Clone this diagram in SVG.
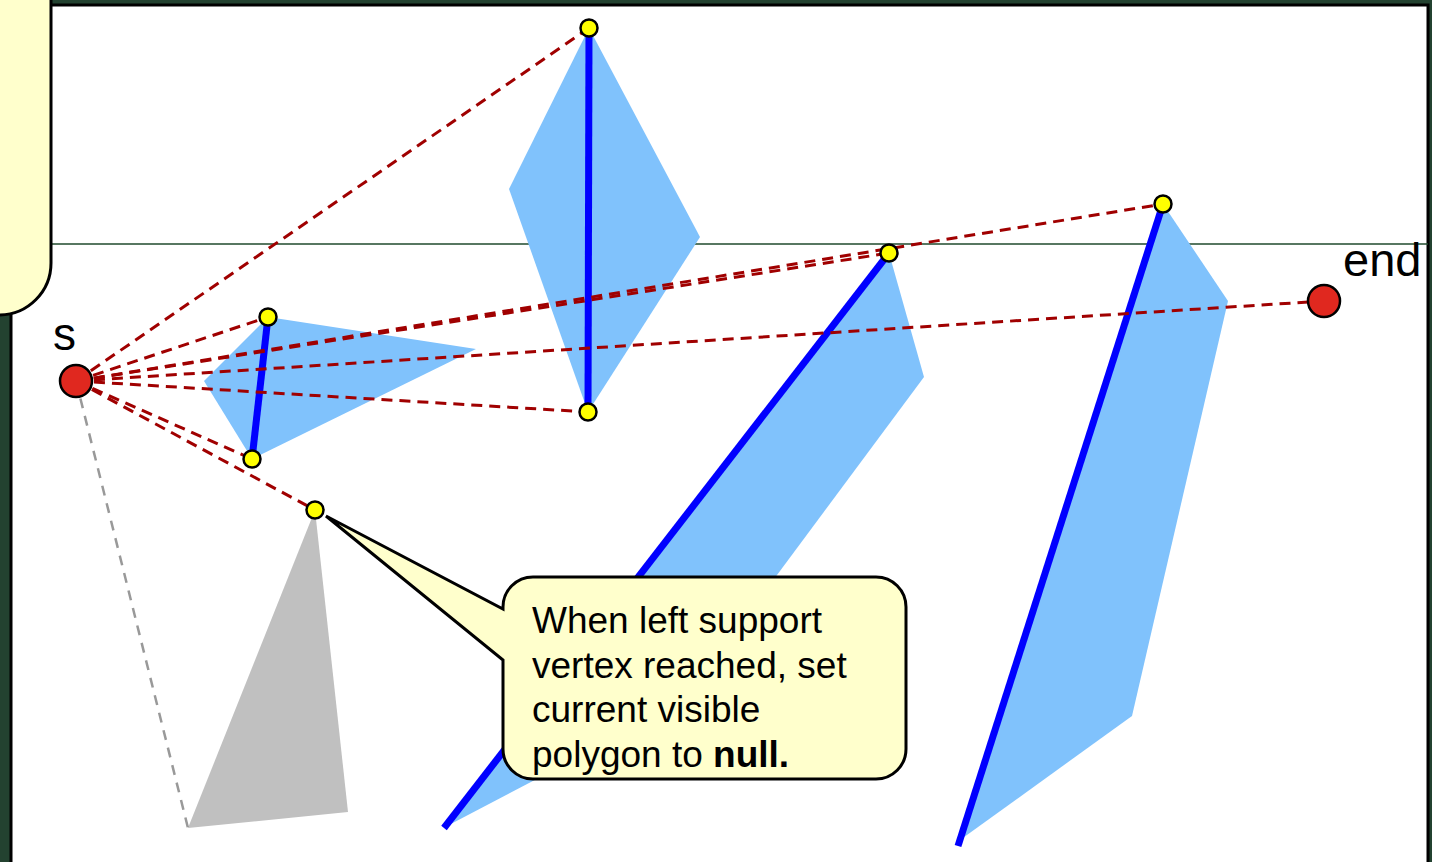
<svg xmlns="http://www.w3.org/2000/svg" width="1432" height="862" viewBox="0 0 1432 862">
<style>
.poly{fill:#80c2fc;stroke:none}
.grey{fill:#c0c0c0;stroke:none}
.edge{stroke:#0000ff;stroke-width:7;stroke-linecap:butt;fill:none}
.ray{stroke:#a00000;stroke-width:3;stroke-dasharray:11 7;fill:none}
.gray-ray{stroke:#999999;stroke-width:2.5;stroke-dasharray:10 8;fill:none}
.vtx{fill:#ffff00;stroke:#000;stroke-width:2.5}
.pt{fill:#e0281f;stroke:#000;stroke-width:2.5}
.lbl{font-family:"Liberation Sans",Arial,sans-serif;fill:#000}
.note{fill:#ffffcc;stroke:#000;stroke-width:3}
</style>
<rect x="0" y="0" width="1432" height="862" fill="#234230"/>
<rect x="11" y="5" width="1417" height="870" fill="#ffffff" stroke="#000" stroke-width="3"/>
<line x1="51" y1="244" x2="1428" y2="244" stroke="#1f4a2c" stroke-width="1.5"/>
<g id="callout-top">
<rect class="note" x="-100" y="-100" width="151" height="415" rx="52" ry="52"/>
</g>
<g id="polygons">
<polygon id="poly1" class="poly" points="268,317 476,349 252,459 204,381"/>
<polygon id="poly2" class="poly" points="589,28 700,237 588,412 509,189"/>
<polygon id="poly3" class="poly" points="889,253 924,377 682,703 447,826"/>
<polygon id="poly4" class="poly" points="1163,204 1228,301 1132,716 960,840"/>
<polygon id="poly5" class="grey" points="315,510 348,812 188,828"/>
</g>
<g id="edges">
<line class="edge" x1="268" y1="317" x2="252" y2="459"/>
<line class="edge" x1="589" y1="28" x2="588" y2="412"/>
<line class="edge" x1="889" y1="253" x2="444" y2="828"/>
<line class="edge" x1="1163" y1="204" x2="958" y2="846"/>
</g>
<g id="connectors">
<line class="gray-ray" x1="76" y1="381" x2="188" y2="828"/>
<line class="ray" x1="76" y1="381" x2="589" y2="28"/>
<line class="ray" x1="76" y1="381" x2="268" y2="317"/>
<line class="ray" x1="76" y1="381" x2="889" y2="253"/>
<line class="ray" x1="76" y1="381" x2="1163" y2="204"/>
<line class="ray" x1="76" y1="381" x2="1324" y2="301"/>
<line class="ray" x1="76" y1="381" x2="588" y2="412"/>
<line class="ray" x1="76" y1="381" x2="252" y2="459"/>
<line class="ray" x1="76" y1="381" x2="315" y2="510"/>
</g>
<g id="v1"><circle class="vtx" cx="589" cy="28" r="8.5"/></g>
<g id="v2"><circle class="vtx" cx="588" cy="412" r="8.5"/></g>
<g id="v3"><circle class="vtx" cx="268" cy="317" r="8.5"/></g>
<g id="v4"><circle class="vtx" cx="252" cy="459" r="8.5"/></g>
<g id="v5"><circle class="vtx" cx="315" cy="510" r="8.5"/></g>
<g id="v6"><circle class="vtx" cx="889" cy="253" r="8.5"/></g>
<g id="v7"><circle class="vtx" cx="1163" cy="204" r="8.5"/></g>
<g id="node-s">
<circle class="pt" cx="76" cy="381" r="16"/>
<text class="lbl" x="53" y="350" font-size="46">s</text>
</g>
<g id="node-end">
<circle class="pt" cx="1324" cy="301" r="16"/>
<text class="lbl" x="1343" y="276" font-size="47">end</text>
</g>
<g id="callout">
<path class="note" d="M533,577 H876 A30,30 0 0 1 906,607 V749 A30,30 0 0 1 876,779 H533 A30,30 0 0 1 503,749 V660 L326,516 L503,609 V607 A30,30 0 0 1 533,577 Z"/>
<text class="lbl" font-size="37">
<tspan x="532" y="633">When left support</tspan>
<tspan x="532" y="677.5">vertex reached, set</tspan>
<tspan x="532" y="722">current visible</tspan>
<tspan x="532" y="766.5">polygon to <tspan font-weight="bold">null.</tspan></tspan>
</text>
</g>
</svg>
